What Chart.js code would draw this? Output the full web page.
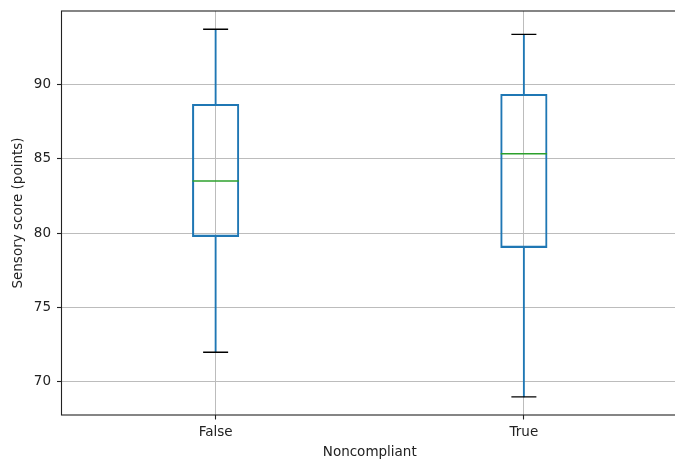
<!DOCTYPE html>
<html>
<head>
<meta charset="utf-8">
<script src="https://cdn.jsdelivr.net/npm/chart.js@4"></script>
<style>
  html, body { margin: 0; padding: 0; background: #fff; overflow: hidden; }
  #chartBox { display: block; }
</style>
</head>
<body>
<canvas id="chartBox" width="680" height="461"></canvas>
<script>
var categorias = ['False', 'True'];
var minimos   = [72.0, 69.0];
var q1        = [79.77, 79.03];
var medianas  = [83.5, 85.34];
var q3        = [88.66, 89.33];
var maximos   = [93.7, 93.36];
var yTicks    = [70, 75, 80, 85, 90];
var yMin = 67.78;
var yMax = 94.93;

var AZUL = '#1f77b4';
var VERDE = '#2ca02c';
var FUENTE = { family: 'DejaVu Sans', size: 13.5 };

// pares [desde, hasta] para las barras flotantes
function pares(a, b) {
  return a.map(function(v, i) { return [v, b[i]]; });
}

// quitar el relleno que Chart.js reserva para las etiquetas
function sinRelleno(scale) {
  scale.paddingTop = 0;
  scale.paddingBottom = 0;
  scale.paddingLeft = 0;
  scale.paddingRight = 0;
}

// Marco negro alrededor del área del gráfico (como matplotlib)
var marco = {
  id: 'marco',
  afterDraw: function(chart) {
    var a = chart.chartArea;
    var ctx = chart.ctx;
    ctx.save();
    ctx.strokeStyle = '#222';
    ctx.lineWidth = 1.1;
    ctx.strokeRect(a.left, a.top, a.right - a.left, a.bottom - a.top);
    ctx.restore();
  }
};

new Chart(document.getElementById('chartBox'), {
  type: 'bar',
  data: {
    labels: categorias,
    datasets: [
      {
        type: 'line',
        label: 'Mediana',
        data: medianas,
        showLine: false,
        pointStyle: 'line',
        pointRadius: 23.2,
        pointHoverRadius: 23.2,
        pointBorderColor: VERDE,
        pointBorderWidth: 1.5
      },
      {
        type: 'line',
        label: 'Tope',
        data: maximos,
        showLine: false,
        pointStyle: 'line',
        pointRadius: 12.5,
        pointHoverRadius: 12.5,
        pointBorderColor: '#000',
        pointBorderWidth: 1.4
      },
      {
        type: 'line',
        label: 'Base',
        data: minimos,
        showLine: false,
        pointStyle: 'line',
        pointRadius: 12.5,
        pointHoverRadius: 12.5,
        pointBorderColor: '#000',
        pointBorderWidth: 1.4
      },
      {
        label: 'Caja',
        data: pares(q1, q3),
        backgroundColor: 'rgba(0,0,0,0)',
        borderColor: AZUL,
        borderWidth: 1.4,
        borderSkipped: false,
        barThickness: 46.5,
        grouped: false
      },
      {
        label: 'Bigote inferior',
        data: pares(minimos, q1),
        backgroundColor: AZUL,
        borderWidth: 0,
        barThickness: 1.2,
        grouped: false
      },
      {
        label: 'Bigote superior',
        data: pares(q3, maximos),
        backgroundColor: AZUL,
        borderWidth: 0,
        barThickness: 1.2,
        grouped: false
      }
    ]
  },
  options: {
    responsive: false,
    animation: false,
    layout: {
      autoPadding: false,
      padding: { top: 11, right: 2, left: 10, bottom: 0 }
    },
    plugins: {
      legend: { display: false },
      tooltip: { enabled: false }
    },
    scales: {
      x: {
        type: 'category',
        offset: true,
        border: { display: false },
        grid: {
          offset: false,
          color: '#bcbcbc',
          lineWidth: 1,
          tickColor: '#222',
          tickLength: 4.5,
          tickWidth: 1.1
        },
        ticks: { color: '#222', font: FUENTE, padding: 5, maxRotation: 0 },
        title: { display: true, text: 'Noncompliant', color: '#222', font: FUENTE, padding: 0 },
        afterFit: function(scale) { scale.height = 46; sinRelleno(scale); }
      },
      y: {
        min: yMin,
        max: yMax,
        border: { display: false },
        grid: {
          color: '#bcbcbc',
          lineWidth: 1,
          tickColor: '#222',
          tickLength: 4.5,
          tickWidth: 1.1
        },
        ticks: { color: '#222', font: FUENTE, padding: 6 },
        afterBuildTicks: function(scale) {
          scale.ticks = yTicks.map(function(v) { return { value: v }; });
        },
        title: { display: true, text: 'Sensory score (points)', color: '#222', font: FUENTE, padding: 0 },
        afterFit: function(scale) { scale.width = 51.5; sinRelleno(scale); }
      }
    }
  },
  plugins: [marco]
});
</script>
</body>
</html>
